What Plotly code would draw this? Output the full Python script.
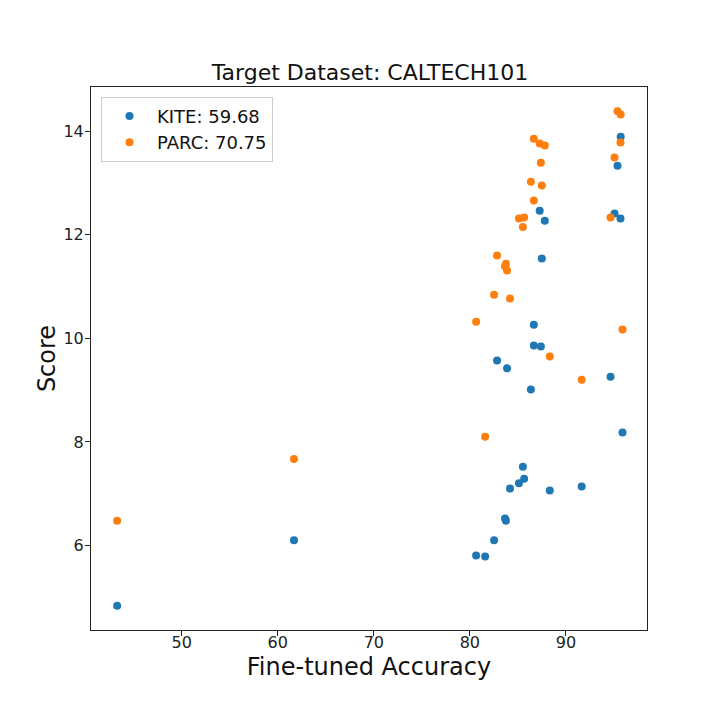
import plotly.graph_objects as go

# fine-tuned accuracy per source model (shared by both methods)
accuracy = [43.28, 61.69, 80.65, 81.59, 82.52, 82.83, 83.66, 83.76, 83.87, 84.18,
            85.11, 85.52, 85.65, 86.35, 86.66, 86.66, 87.27, 87.39, 87.49, 87.80,
            88.32, 91.64, 94.64, 95.06, 95.37, 95.70, 95.68, 95.89]

kite_score = [4.84, 6.10, 5.81, 5.79, 6.10, 9.57, 6.52, 6.48, 9.42, 7.10,
              7.20, 7.52, 7.29, 9.01, 10.26, 9.86, 12.46, 9.84, 11.54, 12.27,
              7.06, 7.14, 9.26, 12.41, 13.33, 13.89, 12.31, 8.18]

parc_score = [6.48, 7.67, 10.32, 8.10, 10.84, 11.60, 11.39, 11.44, 11.31, 10.77,
              12.31, 12.15, 12.33, 13.02, 12.66, 13.85, 13.76, 13.39, 12.95, 13.72,
              9.65, 9.20, 12.33, 13.49, 14.38, 14.32, 13.78, 10.17]

series = [("KITE: 59.68", kite_score, "#1f77b4"), ("PARC: 70.75", parc_score, "#ff7f0e")]

FONT = "DejaVu Sans"

fig = go.Figure()
for name, scores, color in series:
    fig.add_trace(
        go.Scatter(
            x=accuracy,
            y=scores,
            mode="markers",
            name=name,
            marker={"color": color, "size": 8, "line": {"width": 0}},
        )
    )

axis_style = dict(
    showgrid=False,
    zeroline=False,
    showline=True,
    mirror=True,
    linecolor="#222222",
    linewidth=1,
    ticks="outside",
    ticklen=5,
    tickcolor="#222222",
    tickfont={"size": 16, "color": "#222222", "family": FONT},
)

fig.update_xaxes(
    **axis_style,
    range=[40.56, 98.44],
    tickvals=[50, 60, 70, 80, 90],
    ticklabelstandoff=-7,
    title={"text": "Fine-tuned Accuracy", "font": {"size": 24, "color": "#111111", "family": FONT}, "standoff": 6},
)
fig.update_yaxes(
    **axis_style,
    range=[4.37, 14.85],
    tickvals=[6, 8, 10, 12, 14],
    ticklabelstandoff=-2,
    title={"text": "Score", "font": {"size": 24, "color": "#111111", "family": FONT}, "standoff": 1},
)

# the page adds ~7px of body margin, so the margins are shifted to compensate
fig.update_layout(
    width=720,
    height=720,
    margin={"l": 83, "r": 81, "t": 79, "b": 98},
    paper_bgcolor="#ffffff",
    plot_bgcolor="#ffffff",
    font={"family": FONT, "color": "#111111"},
    title={
        "text": "Target Dataset: CALTECH101",
        "x": 362 / 720,
        "xanchor": "center",
        "y": 1 - 64 / 720,
        "yanchor": "middle",
        "font": {"size": 22, "color": "#111111", "family": FONT},
    },
    legend={
        "x": 0.018,
        "y": 0.982,
        "xanchor": "left",
        "yanchor": "top",
        "bgcolor": "rgba(255,255,255,0.8)",
        "bordercolor": "#cccccc",
        "borderwidth": 1,
        "itemwidth": 45,
        "font": {"size": 18, "color": "#111111", "family": FONT},
    },
    showlegend=True,
)

fig.write_html("out.html")
